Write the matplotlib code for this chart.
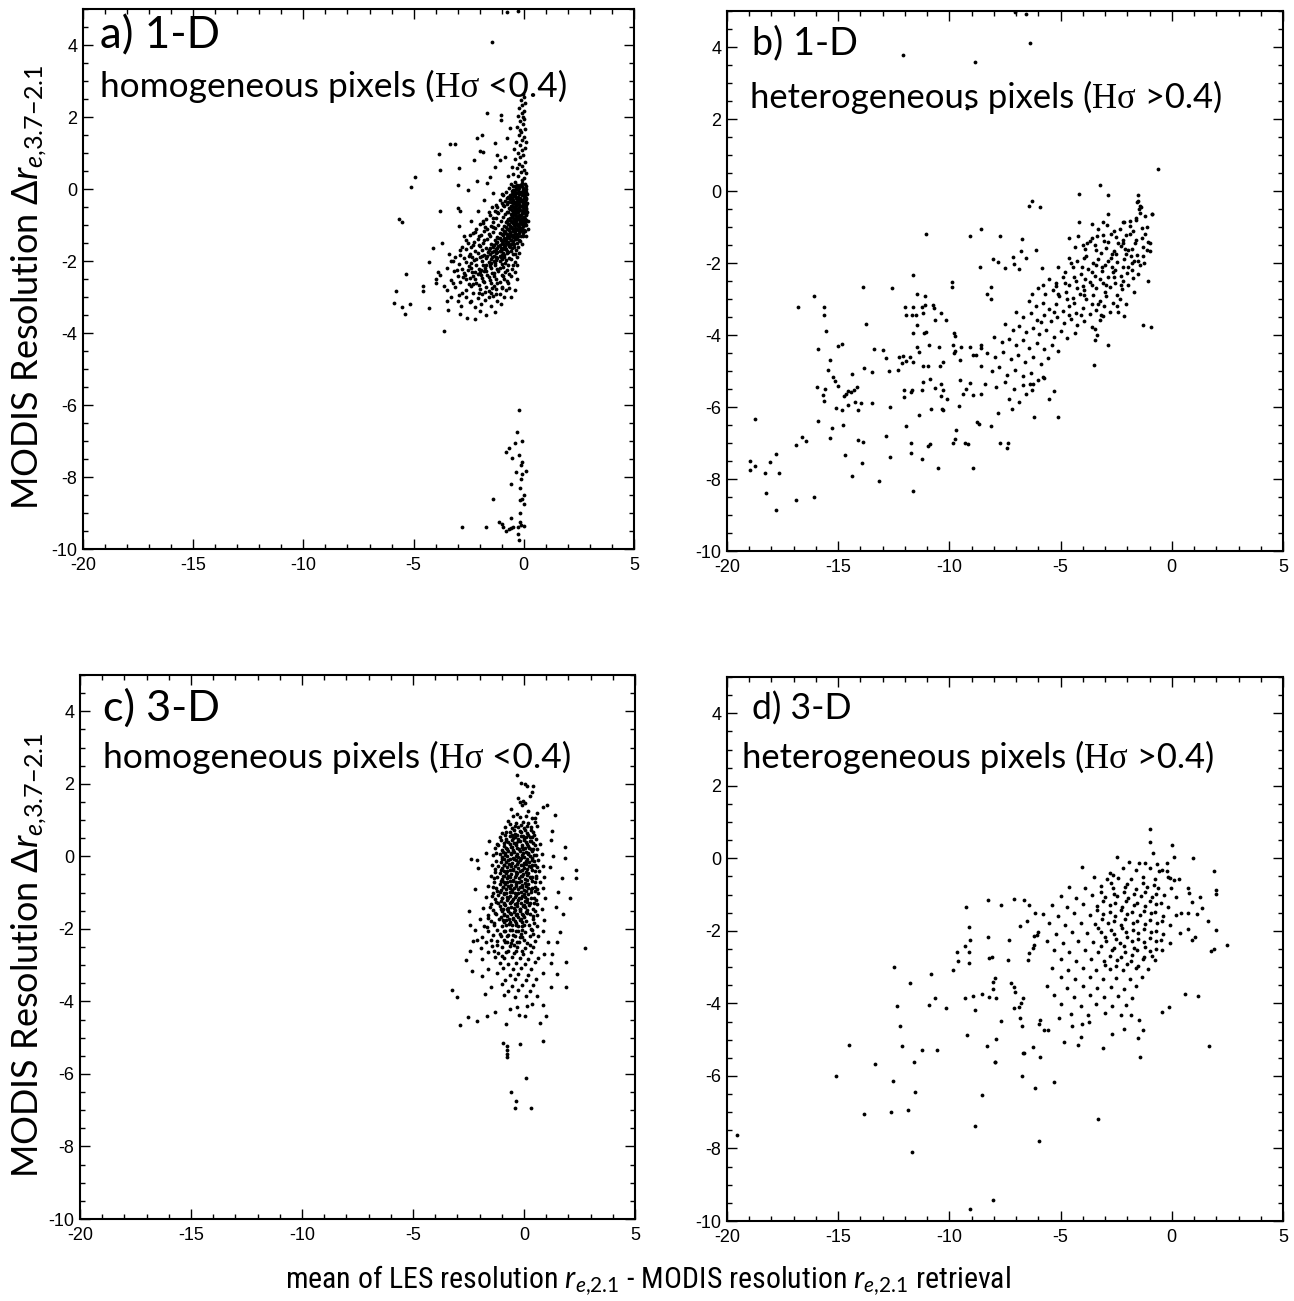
import matplotlib
matplotlib.use("Agg")
import matplotlib.pyplot as plt
from matplotlib import font_manager
from matplotlib.ticker import MultipleLocator

plt.rcParams['font.family'] = ['Lato', 'DejaVu Sans']
plt.rcParams['mathtext.fontset'] = 'custom'
plt.rcParams['mathtext.rm'] = 'Lato'
plt.rcParams['mathtext.it'] = 'Lato:italic'
plt.rcParams['axes.unicode_minus'] = False

# a condensed face for the bottom label, if one is installed
cond_family, cond_stretch = 'Lato', 'normal'
for f in font_manager.fontManager.ttflist:
    if f.stretch in ('condensed', 'semi-condensed') and f.style == 'normal' \
            and f.weight in (400, 'normal', 'regular'):
        cond_family, cond_stretch = f.name, f.stretch
        if f.name in ('Liberation Sans Narrow', 'Roboto Condensed', 'Open Sans Condensed'):
            break

# ---- data (x: mean LES - MODIS r_e2.1, y: MODIS delta r_e) ----
panel_tags = ['a) 1-D', 'b) 1-D', 'c) 3-D', 'd) 3-D']
panel_kinds = ['homogeneous pixels (', 'heterogeneous pixels (',
               'homogeneous pixels (', 'heterogeneous pixels (']
panel_limits = [' <0.4)', ' >0.4)', ' <0.4)', ' >0.4)']

x_major = [-20, -15, -10, -5, 0, 5]
y_major = [-10, -8, -6, -4, -2, 0, 2, 4]

# a) 1-D, homogeneous
pts_a = [
    (-1.45, 4.08), (-0.75, 4.92), (-0.25, 4.95),
    (-0.05, 2.65), (0.02, 2.55), (-0.12, 2.48), (0.05, 2.40), (-0.08, 2.32), (-0.2, 2.25),
    (0.0, 2.18), (-0.1, 2.10), (-0.25, 2.02), (0.03, 1.95), (-0.15, 1.88), (-0.05, 1.80),
    (-0.3, 1.72), (0.06, 1.66), (-0.12, 1.58), (-0.22, 1.50), (0.0, 1.44), (-0.08, 1.36),
    (-0.35, 1.30), (-0.18, 1.22), (0.04, 1.15), (-0.1, 1.08), (-0.28, 1.00), (-0.02, 0.94),
    (-0.15, 0.88), (-0.42, 0.82), (0.05, 0.76), (-0.22, 0.70), (-0.08, 0.64), (-0.32, 0.58),
    (0.0, 0.52), (-0.14, 0.46), (-0.5, 0.42), (-0.25, 0.36), (0.03, 0.30), (-0.1, 0.25),
    (-0.38, 0.20), (-0.6, 0.15), (-0.18, 0.12), (0.08, 0.08), (-0.02, 2.0), (-0.15, 1.65),
    (0.08, 1.3), (-0.45, 1.1), (-0.55, 0.6), (0.1, 0.45), (-0.7, 0.35),
    (-1.66, 2.10), (-1.05, 2.06), (-1.05, 1.92), (-3.35, 1.25), (-3.12, 1.25), (-3.85, 0.97),
    (-3.80, 0.53), (-4.94, 0.34), (-5.12, 0.06), (-2.94, 0.58), (-3.0, 0.10), (-2.14, 1.41),
    (-1.91, 1.50), (-1.99, 1.06), (-1.84, 1.04), (-2.26, 0.81), (-1.31, 0.62), (-1.23, 0.94),
    (-1.31, 1.27), (-1.08, 0.81), (-0.85, 0.90), (-0.78, 1.41), (-0.63, 1.69), (-2.52, -0.03),
    (-2.14, 0.23), (-1.69, 0.16), (-1.53, 0.34),
    (-0.3, 0.12), (-0.1, 0.07), (0.05, 0.13), (-0.5, 0.09),
    (-0.2, 0.02), (-0.05, -0.03), (0.1, 0.01), (-0.4, -0.02), (-0.65, 0.03),
    (-0.15, -0.08), (0.0, -0.12), (-0.35, -0.1), (-0.55, -0.13), (0.12, -0.09), (-0.8, -0.07),
    (-0.25, -0.22), (-0.08, -0.18), (0.05, -0.21), (-0.45, -0.19), (-0.7, -0.23), (-0.95, -0.17),
    (-0.3, -0.28), (-0.12, -0.32), (0.08, -0.29), (-0.5, -0.31), (-0.62, -0.27), (-0.85, -0.33), (-1.1, -0.3),
    (-0.2, -0.41), (-0.02, -0.38), (-0.4, -0.42), (0.12, -0.4), (-0.6, -0.37), (-0.78, -0.43), (-1.0, -0.39),
    (-0.28, -0.52), (-0.1, -0.48), (0.05, -0.51), (-0.48, -0.49), (-0.68, -0.53), (-0.9, -0.47),
    (-1.2, -0.51), (-1.45, -0.49),
    (-0.15, -0.58), (0.0, -0.62), (-0.35, -0.61), (-0.55, -0.57), (0.1, -0.6), (-0.75, -0.63),
    (-1.05, -0.59), (-1.3, -0.62),
    (-0.22, -0.72), (-0.05, -0.68), (-0.42, -0.71), (-0.6, -0.69), (0.08, -0.73), (-0.85, -0.7),
    (-1.15, -0.67), (-1.55, -0.72),
    (-0.3, -0.79), (-0.12, -0.82), (0.02, -0.78), (-0.5, -0.81), (-0.7, -0.83), (-0.95, -0.78),
    (-1.25, -0.8), (-1.7, -0.82),
    (-0.18, -0.91), (-0.02, -0.88), (-0.38, -0.92), (-0.58, -0.89), (0.1, -0.9), (-0.8, -0.93),
    (-1.05, -0.88), (-1.4, -0.91), (-1.85, -0.89),
    (-0.25, -1.02), (-0.08, -0.98), (-0.45, -1.01), (-0.65, -0.97), (-0.88, -1.03), (-1.15, -0.99),
    (-1.5, -1.02), (0.05, -1.0), (-2.0, -0.98),
    (-0.15, -1.09), (-0.35, -1.12), (-0.55, -1.08), (-0.75, -1.11), (0.0, -1.13), (-1.0, -1.1),
    (-1.3, -1.07), (-1.65, -1.12), (-2.15, -1.1),
    (-0.22, -1.21), (-0.42, -1.18), (-0.62, -1.22), (-0.85, -1.19), (-1.1, -1.23), (-1.4, -1.2),
    (-1.8, -1.18), (-0.05, -1.21), (-2.3, -1.22),
    (-0.3, -1.32), (-0.5, -1.28), (-0.7, -1.31), (-0.95, -1.29), (-1.2, -1.33), (-1.55, -1.3),
    (-1.95, -1.27), (-0.12, -1.31), (-2.45, -1.29),
    (-0.2, -1.41), (-0.4, -1.38), (-0.6, -1.42), (-0.82, -1.39), (-1.05, -1.41), (-1.3, -1.43),
    (-1.65, -1.38), (-2.1, -1.4), (-2.6, -1.42),
    (-0.3, -1.49), (-0.52, -1.52), (-0.75, -1.48), (-1.0, -1.51), (-1.25, -1.49), (-1.5, -1.53),
    (-1.85, -1.5), (-2.25, -1.48), (-0.1, -1.52),
    (-0.45, -1.61), (-0.68, -1.58), (-0.9, -1.62), (-1.15, -1.59), (-1.4, -1.61), (-1.7, -1.63),
    (-2.0, -1.58), (-2.4, -1.6), (-2.8, -1.62),
    (-0.35, -1.69), (-0.6, -1.72), (-0.85, -1.68), (-1.1, -1.71), (-1.35, -1.73), (-1.6, -1.69),
    (-1.9, -1.7), (-2.2, -1.72), (-2.6, -1.68),
    (-0.5, -1.81), (-0.78, -1.79), (-1.0, -1.82), (-1.25, -1.78), (-1.55, -1.81), (-1.8, -1.83),
    (-2.1, -1.79), (-2.45, -1.8), (-2.9, -1.82), (-0.2, -1.78),
    (-0.65, -1.91), (-0.9, -1.88), (-1.2, -1.92), (-1.45, -1.89), (-1.7, -1.91), (-2.0, -1.9),
    (-2.35, -1.88), (-2.7, -1.92), (-3.1, -1.9),
    (-0.4, -2.02), (-0.8, -1.98), (-1.1, -2.01), (-1.35, -1.99), (-1.6, -2.03), (-1.9, -2.0),
    (-2.25, -1.97), (-2.6, -2.02), (-3.3, -2.0),
    (-0.7, -2.11), (-1.0, -2.09), (-1.3, -2.12), (-1.55, -2.08), (-1.85, -2.11), (-2.15, -2.1),
    (-2.5, -2.13), (-2.95, -2.09), (-0.3, -2.1),
    (-0.55, -2.21), (-0.95, -2.18), (-1.2, -2.22), (-1.5, -2.19), (-1.75, -2.2), (-2.05, -2.23),
    (-2.4, -2.19), (-2.8, -2.21), (-3.5, -2.2),
    (-0.85, -2.31), (-1.15, -2.29), (-1.45, -2.32), (-1.7, -2.28), (-2.0, -2.31), (-2.35, -2.3),
    (-2.7, -2.32), (-3.15, -2.29), (-0.4, -2.3),
    (-0.6, -2.41), (-1.0, -2.38), (-1.35, -2.42), (-1.65, -2.39), (-1.95, -2.4), (-2.3, -2.43),
    (-2.65, -2.39), (-3.0, -2.41), (-3.8, -2.4),
    (-0.9, -2.51), (-1.25, -2.49), (-1.55, -2.52), (-1.9, -2.48), (-2.2, -2.51), (-2.6, -2.5),
    (-3.3, -2.52), (-0.3, -2.5),
    (-0.7, -2.61), (-1.1, -2.58), (-1.5, -2.62), (-1.8, -2.59), (-2.15, -2.6), (-2.5, -2.63),
    (-2.9, -2.59), (-4.0, -2.6),
    (-1.0, -2.71), (-1.35, -2.69), (-1.7, -2.72), (-2.05, -2.68), (-2.4, -2.7), (-3.1, -2.72),
    (-0.8, -2.81), (-1.25, -2.79), (-1.6, -2.82), (-2.0, -2.78), (-2.6, -2.8), (-3.5, -2.81),
    (-1.1, -2.91), (-1.5, -2.88), (-1.9, -2.92), (-2.3, -2.9), (-2.8, -2.89),
    (-0.9, -3.01), (-1.4, -2.98), (-2.1, -3.02), (-2.6, -3.0), (-3.3, -2.99),
    (-1.2, -3.11), (-1.75, -3.09), (-2.4, -3.12), (-3.0, -3.1),
    (-1.5, -3.24), (-2.2, -3.27), (-2.85, -3.25), (-1.3, -3.41), (-2.0, -3.38),
    (-0.22, 0.06), (-0.02, 0.03), (-0.4, 0.07),
    (-0.28, -0.04), (-0.1, -0.07), (0.06, -0.05), (-0.5, -0.03),
    (-0.2, -0.14), (-0.05, -0.17), (0.1, -0.15), (-0.4, -0.13), (-0.62, -0.16),
    (-0.35, -0.24), (-0.15, -0.27), (0.0, -0.25), (-0.55, -0.26),
    (-0.22, -0.34), (-0.05, -0.37), (-0.42, -0.35), (0.05, -0.33), (-0.7, -0.36),
    (-0.3, -0.44), (-0.12, -0.47), (0.08, -0.45), (-0.52, -0.46),
    (-0.2, -0.54), (-0.05, -0.57), (-0.4, -0.55), (-0.62, -0.56), (0.12, -0.53),
    (-0.28, -0.64), (-0.1, -0.67), (0.05, -0.65), (-0.5, -0.66), (-0.7, -0.64),
    (-0.15, -0.74), (0.0, -0.77), (-0.35, -0.75), (-0.55, -0.76),
    (-0.25, -0.84), (-0.08, -0.87), (-0.45, -0.85), (-0.65, -0.86), (0.06, -0.83),
    (-0.12, -0.94), (-0.3, -0.97), (-0.5, -0.95), (-0.72, -0.96), (0.02, -0.93),
    (-0.2, -1.04), (-0.38, -1.07), (-0.6, -1.05), (-0.8, -1.06), (-0.05, -1.03),
    (-0.28, -1.14), (-0.48, -1.17), (-0.68, -1.15), (-0.9, -1.16), (-0.1, -1.13),
    (-0.35, -1.24), (-0.55, -1.27), (-0.78, -1.25), (-1.0, -1.26),
    (-0.42, -1.34), (-0.65, -1.37), (-0.88, -1.35), (-1.1, -1.36),
    (-0.5, -1.44), (-0.72, -1.47), (-0.95, -1.45), (-1.2, -1.46),
    (-0.6, -1.54), (-0.85, -1.57), (-1.1, -1.55), (-1.35, -1.56),
    (-0.55, -1.64), (-0.8, -1.67), (-1.05, -1.65), (-1.28, -1.66), (-1.55, -1.64),
    (-0.7, -1.74), (-0.95, -1.77), (-1.2, -1.75), (-1.45, -1.76),
    (-0.9, -1.84), (-1.1, -1.87), (-1.35, -1.85), (-1.65, -1.86),
    (-1.0, -1.94), (-1.25, -1.97), (-1.5, -1.95),
    (-0.08, 0.16), (-0.34, 0.04), (0.0, -0.02), (-0.26, -0.12), (-0.46, -0.08), (0.03, -0.14),
    (-0.18, -0.25), (-0.38, -0.2), (-0.6, -0.21), (0.1, -0.24), (-0.08, -0.3), (-0.3, -0.36),
    (-0.5, -0.4), (0.0, -0.43), (-0.17, -0.46), (-0.4, -0.5), (-0.6, -0.47), (0.08, -0.56),
    (-0.25, -0.58), (-0.47, -0.62), (-0.03, -0.6), (-0.35, -0.68), (-0.12, -0.72), (0.1, -0.7),
    (-0.55, -0.72), (-0.25, -0.78), (-0.42, -0.82), (-0.04, -0.8), (-0.62, -0.8), (-0.17, -0.9),
    (-0.35, -0.88), (0.05, -0.95), (-0.55, -0.93), (-0.75, -0.9), (-0.25, -0.97), (-0.42, -1.0),
    (-0.1, -1.08), (-0.62, -1.02), (-0.3, -1.1), (-0.5, -1.13), (-0.72, -1.1), (-0.18, -1.18),
    (-0.4, -1.23), (-0.62, -1.2), (-0.85, -1.22), (-0.25, -1.3), (-0.48, -1.32), (-0.75, -1.33),
    (-0.35, -1.4), (-0.58, -1.42), (-0.85, -1.43), (-0.45, -1.52), (-0.7, -1.52), (-0.95, -1.53),
    (-0.62, -1.62), (-0.9, -1.64), (-1.2, -1.63), (-0.78, -1.72), (-1.05, -1.73), (-0.05, -0.5),
    (0.12, -0.85), (0.1, -1.0), (0.15, -0.15), (0.14, -0.65),
    (-1.38, -1.05), (-1.6, -1.25), (-1.82, -1.43), (-2.05, -1.55), (-1.15, -1.35), (-1.42, -1.55),
    (-1.62, -1.74), (-1.9, -1.86), (-2.15, -1.95), (-2.4, -2.05), (-1.05, -1.88), (-1.3, -2.05),
    (-1.55, -2.15), (-1.8, -2.27), (-2.1, -2.37), (-2.45, -2.48), (-0.85, -2.05), (-1.1, -2.2),
    (-1.35, -2.33), (-1.6, -2.45), (-1.85, -2.55), (-2.3, -2.65), (-0.95, -2.42), (-1.2, -2.6),
    (-1.45, -2.75), (-1.75, -2.85), (-2.05, -2.9), (-0.75, -2.25), (-0.6, -1.95), (-0.4, -1.8),
    (-0.25, -1.6), (-0.15, -1.45), (-0.05, -1.3), (0.05, -1.18), (-0.3, -1.9), (-0.5, -2.12),
    (-0.65, -2.35), (-0.75, -2.55), (-1.0, -2.75), (-1.28, -2.92), (-0.62, -1.3), (-0.8, -1.5),
    (-1.0, -1.68), (-1.25, -1.88), (-1.48, -2.05), (-1.72, -2.12), (-1.95, -2.25), (-2.2, -2.3),
    (-2.55, -2.25), (-2.75, -2.45), (-2.5, -1.85), (-2.3, -1.55), (-2.05, -1.3), (-1.75, -1.05),
    (-1.4, -0.8), (-1.2, -0.65), (-0.95, -0.45), (-0.75, -0.25), (-0.55, -0.05), (-1.0, -0.15),
    (-1.25, -0.45), (-1.6, -0.65), (-1.85, -0.95), (-2.2, -1.2), (-2.55, -1.5), (-2.9, -1.7),
    (-3.05, -2.25), (-3.2, -2.6), (-2.95, -2.95), (-2.45, -3.15), (-1.95, -3.2), (-1.6, -3.0),
    (-1.05, -3.2), (-0.65, -2.75),
    (-5.68, -0.83), (-5.53, -0.92), (-4.1, -1.64), (-4.3, -2.03), (-5.35, -2.36), (-5.8, -2.83),
    (-5.89, -3.17), (-5.53, -3.28), (-5.39, -3.47), (-5.16, -3.19), (-4.57, -2.69), (-4.57, -2.83),
    (-3.62, -3.94), (-2.58, -3.58), (-3.44, -3.36), (-2.89, -3.47), (-3.8, -0.61), (-3.0, -0.53),
    (-2.9, -0.61), (-2.95, -1.03), (-3.9, -2.3), (-3.6, -2.7), (-4.0, -2.5), (-3.4, -1.8),
    (-3.7, -1.5), (-2.7, -1.3), (-2.4, -0.9), (-2.1, -0.6), (-1.8, -0.3), (-1.4, -0.1),
    (-3.2, -2.0), (-3.5, -3.1), (-4.3, -3.3), (-2.2, -3.6), (-1.7, -3.5), (-0.6, -3.0),
    (-0.4, -2.8), (0.1, -1.3), (0.2, -0.9), (0.15, -0.4), (0.2, -1.1),
    (-0.2, -6.15), (-0.3, -6.75), (-0.1, -7.0), (-0.65, -7.2), (-0.4, -7.05),
    (-0.79, -7.31), (-0.22, -7.40), (-0.53, -7.46), (-0.08, -7.58), (-0.12, -7.66), (-0.36, -7.86),
    (0.08, -7.82), (-0.06, -7.91), (-0.12, -8.06), (-0.59, -8.19), (-0.18, -8.31), (0.02, -8.51),
    (-0.08, -8.60), (-0.16, -8.63), (0.0, -8.75), (-1.38, -8.60), (-0.18, -8.99), (-0.59, -9.13),
    (-1.14, -9.26), (-0.97, -9.30), (-0.16, -9.24), (-0.12, -9.33), (0.02, -9.35), (-2.8, -9.39),
    (-1.70, -9.39), (-0.93, -9.40), (-0.79, -9.50), (-0.67, -9.45), (-0.57, -9.42), (-0.47, -9.40),
    (-0.28, -9.40), (-0.26, -9.58), (-0.22, -9.75),
]

# b) 1-D, heterogeneous
pts_b = [
    (-12.09, 3.78), (-8.85, 3.58), (-6.38, 4.11), (-7.05, 4.97), (-6.56, 4.92), (-9.21, 2.31),
    (-0.63, 0.60), (-3.25, 0.16), (-4.19, -0.07), (-2.89, -0.12), (-1.54, -0.12), (-1.51, -0.28),
    (-0.87, -0.65), (-6.30, -0.29), (-6.43, -0.41), (-5.93, -0.44), (-2.89, -0.64), (-4.19, -0.87),
    (-3.60, -0.91), (-3.08, -0.87), (-1.41, -0.43), (-1.46, -0.51), (-2.17, -0.87), (-1.89, -0.83),
    (-1.62, -0.74), (-1.33, -1.04), (-1.09, -2.51), (-1.30, -3.72), (-0.93, -3.77), (-2.89, -4.28),
    (-3.52, -4.83), (-1.06, -1.43), (-0.98, -1.66),
    (-9.08, -1.24), (-8.6, -1.06), (-7.73, -1.26), (-6.73, -1.33), (-6.12, -1.63), (-6.76, -1.66),
    (-4.63, -1.31), (-11.03, -1.20), (-8.04, -1.90), (-7.81, -1.98), (-7.49, -2.14), (-7.12, -1.82),
    (-7.09, -2.02), (-6.57, -1.87), (-6.89, -2.18), (-5.82, -2.14), (-8.63, -2.12), (-8.12, -2.67),
    (-8.31, -2.85), (-8.12, -2.99), (-9.87, -2.53), (-9.90, -2.67),
    (-4.2, -1.25), (-3.6, -1.3), (-3.1, -1.22), (-2.85, -1.42), (-2.5, -1.28), (-2.2, -1.36),
    (-1.9, -1.2), (-1.65, -1.45), (-1.35, -1.3),
    (-4.35, -1.55), (-3.9, -1.62), (-3.45, -1.5), (-3.2, -1.72), (-2.95, -1.58), (-2.6, -1.66),
    (-2.3, -1.52), (-2.05, -1.75), (-1.8, -1.6), (-1.55, -1.78), (-1.3, -1.55),
    (-4.6, -1.85), (-4.25, -1.95), (-3.85, -1.8), (-3.55, -2.0), (-3.3, -1.9), (-3.0, -2.05),
    (-2.75, -1.85), (-2.45, -1.98), (-2.15, -1.88), (-1.95, -2.1), (-1.7, -1.95), (-1.45, -2.05),
    (-5.1, -2.12), (-4.8, -2.25), (-4.45, -2.1), (-4.1, -2.3), (-3.75, -2.18), (-3.45, -2.35),
    (-3.15, -2.22), (-2.85, -2.4), (-2.55, -2.2), (-2.3, -2.35), (-2.0, -2.28), (-1.75, -2.42),
    (-1.5, -2.3),
    (-5.5, -2.45), (-5.2, -2.55), (-4.9, -2.4), (-4.6, -2.6), (-4.3, -2.5), (-4.0, -2.65),
    (-3.7, -2.52), (-3.4, -2.7), (-3.1, -2.55), (-2.8, -2.68), (-2.55, -2.55), (-2.25, -2.72),
    (-1.95, -2.6), (-1.7, -2.8),
    (-6.0, -2.7), (-5.7, -2.85), (-5.35, -2.75), (-5.05, -2.92), (-4.75, -2.8), (-4.45, -2.98),
    (-4.15, -2.85), (-3.85, -3.0), (-3.55, -2.9), (-3.25, -3.05), (-2.95, -2.92), (-2.65, -3.1),
    (-2.35, -3.0), (-2.05, -3.15),
    (-6.4, -3.05), (-6.1, -3.2), (-5.8, -3.1), (-5.5, -3.28), (-5.2, -3.15), (-4.9, -3.32),
    (-4.6, -3.2), (-4.3, -3.38), (-4.0, -3.25), (-3.7, -3.42), (-3.4, -3.3), (-3.1, -3.48),
    (-2.8, -3.35),
    (-7.0, -3.35), (-6.7, -3.5), (-6.35, -3.4), (-6.05, -3.58), (-5.75, -3.45), (-5.45, -3.62),
    (-5.15, -3.5), (-4.85, -3.68), (-4.55, -3.55), (-4.25, -3.72), (-3.95, -3.6), (-3.6, -3.78),
    (-7.5, -3.7), (-7.15, -3.85), (-6.85, -3.75), (-6.55, -3.92), (-6.25, -3.8), (-5.95, -3.98),
    (-5.65, -3.85), (-5.3, -4.05), (-5.0, -3.9), (-4.7, -4.08), (-4.35, -3.95),
    (-8.0, -4.05), (-7.65, -4.2), (-7.3, -4.1), (-7.0, -4.28), (-6.7, -4.15), (-6.4, -4.35),
    (-6.05, -4.22), (-5.75, -4.4), (-5.4, -4.28), (-5.1, -4.45),
    (-8.3, -4.5), (-7.95, -4.6), (-7.6, -4.48), (-7.25, -4.68), (-6.9, -4.55), (-6.6, -4.75),
    (-6.25, -4.62), (-5.9, -4.8), (-5.55, -4.65),
    (-8.6, -4.85), (-8.1, -5.0), (-7.75, -4.9), (-7.4, -5.1), (-7.05, -4.98), (-6.7, -5.15),
    (-6.35, -5.05), (-6.0, -5.25),
    (-8.4, -5.35), (-7.9, -5.45), (-7.5, -5.3), (-7.1, -5.5), (-6.7, -5.4),
    (-3.3, -1.05), (-2.9, -0.95), (-2.6, -1.1), (-2.2, -0.85), (-1.9, -0.98), (-1.6, -0.8),
    (-1.45, -0.6), (-1.4, -0.45), (-1.55, -0.3), (-1.2, -0.7), (-1.1, -1.0), (-0.9, -0.65),
    (-1.0, -1.45), (-1.1, -1.65), (-1.25, -2.0), (-1.8, -2.2), (-2.1, -1.6), (-2.7, -2.1),
    (-3.4, -2.05), (-3.9, -2.45), (-3.0, -2.8), (-2.45, -2.9), (-2.2, -2.5), (-2.7, -1.75),
    (-3.7, -1.4), (-4.0, -1.5), (-4.55, -2.0), (-3.95, -2.75), (-3.3, -3.15), (-4.4, -3.1),
    (-5.2, -2.65), (-5.8, -2.6), (-6.3, -2.85), (-1.8, -2.0), (-2.4, -1.45),
    (-1.75, -1.12), (-2.05, -1.22), (-2.35, -1.05), (-2.75, -1.2), (-3.05, -1.4), (-3.35, -1.25),
    (-3.8, -1.45), (-1.5, -1.95), (-1.85, -1.8), (-2.2, -2.1), (-2.5, -1.75), (-2.85, -1.95),
    (-3.15, -2.1), (-3.6, -2.25), (-4.05, -2.1), (-4.4, -2.4), (-4.8, -2.55), (-2.3, -2.6),
    (-2.6, -2.4), (-2.95, -2.6), (-3.25, -2.45), (-3.6, -2.6), (-3.95, -2.9), (-4.25, -2.7),
    (-4.7, -3.0), (-5.1, -2.85), (-2.2, -1.45), (-1.95, -1.65), (-1.6, -1.35), (-1.3, -1.8),
    (-1.2, -1.2), (-2.45, -3.2), (-3.05, -3.2), (-3.6, -3.15), (-4.1, -3.45), (-4.6, -3.45),
    (-5.3, -3.35), (-5.9, -3.65), (-2.65, -2.25), (-3.4, -1.65), (-3.95, -1.85),
    (-3.44, -3.82), (-3.36, -4.0), (-3.44, -4.14), (-2.41, -3.36), (-2.17, -3.47), (-3.25, -3.59),
    (-3.2, -3.45), (-6.19, -6.28), (-5.11, -6.28), (-5.54, -5.79), (-6.89, -5.86), (-7.41, -7.15),
    (-7.36, -6.99), (-7.73, -6.99), (-6.54, -5.64), (-6.3, -5.52), (-6.22, -5.35), (-6.38, -5.35),
    (-5.74, -5.20), (-5.81, -5.16), (-5.3, -5.56), (-7.81, -6.16), (-7.33, -5.79), (-7.17, -6.05),
    (-8.76, -6.41), (-8.68, -6.48), (-8.12, -6.53),
    (-18.97, -7.49), (-18.76, -7.65), (-18.97, -7.74), (-18.76, -6.34), (-18.28, -7.82),
    (-17.65, -7.83), (-18.08, -7.54), (-17.81, -7.31), (-18.24, -8.39), (-17.81, -8.85),
    (-16.9, -7.05), (-16.62, -6.84), (-16.43, -6.94), (-16.9, -8.59), (-16.09, -8.50),
    (-15.9, -6.39), (-15.27, -6.57), (-15.38, -6.87), (-14.79, -6.5), (-15.9, -4.40),
    (-15.95, -5.44), (-15.58, -5.50), (-15.7, -5.66), (-15.66, -5.84), (-15.46, -4.98),
    (-15.35, -4.69), (-15.22, -5.18), (-15.14, -5.29), (-15.0, -5.43), (-15.03, -4.30),
    (-14.85, -4.26), (-15.11, -6.04), (-14.85, -6.08), (-14.7, -7.33), (-14.36, -7.91),
    (-14.12, -6.92), (-13.87, -6.98), (-13.92, -7.56), (-14.74, -5.70), (-14.58, -5.56),
    (-14.43, -5.58), (-14.28, -5.54), (-14.16, -5.44), (-14.63, -5.63), (-14.36, -5.08),
    (-14.55, -5.95), (-14.24, -5.86), (-14.12, -6.09), (-13.97, -5.89), (-13.47, -5.89),
    (-13.84, -4.92), (-13.46, -5.04), (-13.41, -4.40), (-12.97, -4.43), (-12.84, -4.64),
    (-12.73, -5.01), (-12.33, -4.98), (-12.28, -4.60), (-12.09, -4.57), (-12.12, -4.78),
    (-11.93, -4.72), (-11.78, -4.60), (-11.62, -4.75), (-12.65, -6.0), (-12.87, -6.80),
    (-12.65, -7.38), (-13.16, -8.06), (-11.62, -8.32), (-11.93, -6.53), (-11.74, -6.99),
    (-11.74, -7.29), (-11.22, -7.45), (-10.5, -7.70), (-10.98, -7.08), (-10.85, -7.04),
    (-11.38, -6.23), (-12.06, -5.52), (-12.06, -5.72), (-11.74, -5.58), (-11.68, -5.54),
    (-11.17, -5.31), (-11.22, -5.54), (-10.85, -5.22), (-10.66, -5.47), (-11.46, -4.32),
    (-11.38, -4.46), (-11.17, -4.87), (-10.98, -4.87), (-10.9, -4.29), (-10.46, -4.32),
    (-10.43, -4.87), (-10.27, -4.74), (-10.4, -5.36), (-10.3, -5.52), (-10.38, -5.70),
    (-10.12, -5.77), (-10.82, -6.05), (-10.35, -6.05), (-10.31, -6.09), (-9.82, -4.28),
    (-9.77, -4.44), (-9.81, -4.51), (-9.81, -3.95), (-9.76, -4.02), (-9.58, -5.98),
    (-9.71, -6.65), (-9.77, -6.90), (-9.84, -6.99), (-9.31, -6.99), (-9.16, -7.04),
    (-8.92, -7.70), (-9.49, -4.32), (-9.08, -4.32), (-8.92, -4.55), (-8.81, -4.55),
    (-8.6, -4.28), (-8.57, -4.35), (-9.52, -4.70), (-9.52, -5.24), (-9.39, -5.64),
    (-9.24, -5.49), (-9.08, -5.33), (-8.92, -5.66), (-8.6, -5.64),
    (-16.82, -3.23), (-16.11, -2.92), (-15.62, -3.22), (-15.66, -3.45), (-15.54, -3.89),
    (-13.87, -2.68), (-12.57, -2.69), (-11.62, -2.32), (-13.73, -3.69),
    (-11.46, -2.85), (-11.09, -2.91), (-11.98, -3.23), (-11.62, -3.21), (-11.22, -3.23),
    (-10.74, -3.17), (-11.93, -3.45), (-11.7, -3.45), (-11.49, -3.45), (-11.17, -3.40),
    (-11.11, -3.18), (-10.71, -3.25), (-10.38, -3.38), (-10.16, -3.59), (-10.66, -3.59),
    (-11.46, -3.72), (-11.62, -3.95), (-11.14, -3.95), (-11.03, -3.91),
]

# c) 3-D, homogeneous
pts_c = [
    (-0.33, 2.24), (-0.15, 2.03), (0.04, 1.99), (0.15, 1.94), (0.39, 1.94), (0.35, 1.78),
    (0.27, 1.66), (-0.26, 1.6), (-0.18, 1.5), (-0.1, 1.41), (0.04, 1.46), (-0.03, 1.53),
    (0.87, 1.37), (1.02, 1.41), (1.40, 1.14), (-0.3, 1.18), (0.2, 1.25), (0.5, 1.05), (0.6, 1.2),
    (-0.6, 1.3), (-0.81, 0.68),
    (-1.56, 0.43), (-1.73, 0.08), (-2.4, -0.06), (-2.06, -0.33), (-2.13, -0.1), (-2.2, -0.9),
    (-2.5, -1.5), (-2.45, -1.9), (-2.1, -2.3), (-2.45, -2.6), (-2.6, -2.85), (-2.35, -3.15),
    (-1.9, -3.3), (-1.5, -3.6), (-1.75, -3.8),
    (1.25, 0.7), (1.2, 0.45), (1.85, 0.25), (1.85, -0.05), (1.3, 0.0), (2.34, -0.38), (2.33, -0.6),
    (1.55, -0.97), (2.07, -1.15), (1.44, -1.4), (1.74, -1.6), (1.7, -0.6), (1.15, -0.3),
    (1.6, -2.1), (1.5, -2.35), (1.25, -2.7), (1.9, -2.9), (1.5, -3.25), (2.75, -2.54), (1.9, -3.6),
    (1.2, -3.6),
    (-3.26, -3.69), (-3.0, -3.87), (-2.88, -4.64), (-2.54, -4.44), (-2.13, -4.54), (-1.65, -4.41),
    (-1.31, -4.29), (-0.81, -4.61), (-0.93, -5.16), (-0.75, -5.23), (-0.78, -5.34), (-0.78, -5.44),
    (-0.78, -5.53), (-0.18, -5.18), (0.85, -5.1), (-0.63, -4.2), (-0.33, -4.15), (-0.21, -4.38),
    (0.04, -4.41), (0.12, -4.13), (0.35, -4.06), (0.87, -4.1), (0.6, -3.85), (1.0, -4.4),
    (0.7, -4.6), (-0.6, -6.5), (-0.35, -6.75), (-0.4, -6.95), (0.3, -6.95), (0.1, -6.1),
    (-0.5, 1.12), (-0.2, 1.08), (0.1, 1.11), (0.35, 1.07),
    (-0.7, 0.97), (-0.35, 0.93), (-0.05, 0.96), (0.2, 0.92), (0.5, 0.95),
    (-0.85, 0.82), (-0.55, 0.78), (-0.25, 0.81), (0.0, 0.77), (0.3, 0.8), (0.6, 0.83),
    (-1.0, 0.63), (-0.65, 0.67), (-0.4, 0.62), (-0.12, 0.66), (0.15, 0.64), (0.42, 0.68),
    (-1.1, 0.52), (-0.8, 0.48), (-0.5, 0.51), (-0.25, 0.47), (0.02, 0.5), (0.28, 0.53), (0.55, 0.49),
    (-1.2, 0.33), (-0.92, 0.37), (-0.65, 0.34), (-0.38, 0.36), (-0.1, 0.32), (0.15, 0.35),
    (0.4, 0.38), (0.7, 0.34),
    (-1.3, 0.22), (-1.0, 0.18), (-0.75, 0.21), (-0.5, 0.17), (-0.22, 0.2), (0.05, 0.23),
    (0.3, 0.19), (0.58, 0.21),
    (-1.4, 0.03), (-1.1, 0.07), (-0.85, 0.04), (-0.6, 0.06), (-0.35, 0.02), (-0.08, 0.05),
    (0.2, 0.08), (0.45, 0.04), (0.8, 0.06),
    (-1.25, -0.12), (-0.98, -0.08), (-0.72, -0.11), (-0.45, -0.07), (-0.2, -0.1), (0.08, -0.13),
    (0.35, -0.09), (0.62, -0.11),
    (-1.45, -0.23), (-1.15, -0.27), (-0.88, -0.24), (-0.6, -0.26), (-0.32, -0.22), (-0.05, -0.25),
    (0.22, -0.28), (0.5, -0.24), (0.85, -0.26),
    (-1.3, -0.42), (-1.02, -0.38), (-0.75, -0.41), (-0.48, -0.37), (-0.2, -0.4), (0.1, -0.43),
    (0.38, -0.39), (0.68, -0.41),
    (-1.5, -0.53), (-1.2, -0.57), (-0.92, -0.54), (-0.62, -0.56), (-0.35, -0.52), (-0.08, -0.55),
    (0.25, -0.58), (0.52, -0.54), (0.9, -0.56),
    (-1.35, -0.72), (-1.05, -0.68), (-0.78, -0.71), (-0.5, -0.67), (-0.22, -0.7), (0.05, -0.73),
    (0.35, -0.69), (0.7, -0.71),
    (-1.6, -0.83), (-1.25, -0.87), (-0.95, -0.84), (-0.65, -0.86), (-0.38, -0.82), (-0.1, -0.85),
    (0.18, -0.88), (0.48, -0.84), (0.85, -0.86),
    (-1.4, -1.02), (-1.1, -0.98), (-0.82, -1.01), (-0.55, -0.97), (-0.28, -1.0), (0.0, -1.03),
    (0.3, -0.99), (0.62, -1.01),
    (-1.7, -1.13), (-1.3, -1.17), (-1.0, -1.14), (-0.7, -1.16), (-0.42, -1.12), (-0.15, -1.15),
    (0.15, -1.18), (0.45, -1.14), (0.95, -1.16),
    (-1.5, -1.32), (-1.18, -1.28), (-0.88, -1.31), (-0.6, -1.27), (-0.3, -1.3), (-0.02, -1.33),
    (0.28, -1.29), (0.6, -1.31),
    (-1.85, -1.43), (-1.4, -1.47), (-1.05, -1.44), (-0.75, -1.46), (-0.45, -1.42), (-0.18, -1.45),
    (0.12, -1.48), (0.42, -1.44), (0.8, -1.46),
    (-1.6, -1.62), (-1.25, -1.58), (-0.92, -1.61), (-0.62, -1.57), (-0.32, -1.6), (-0.05, -1.63),
    (0.25, -1.59), (0.58, -1.61),
    (-2.0, -1.73), (-1.5, -1.77), (-1.12, -1.74), (-0.8, -1.76), (-0.5, -1.72), (-0.2, -1.75),
    (0.1, -1.78), (0.4, -1.74), (0.9, -1.76),
    (-1.8, -1.92), (-1.35, -1.88), (-1.0, -1.91), (-0.68, -1.87), (-0.38, -1.9), (-0.08, -1.93),
    (0.22, -1.89), (0.6, -1.91),
    (-2.2, -2.03), (-1.6, -2.07), (-1.2, -2.04), (-0.85, -2.06), (-0.55, -2.02), (-0.25, -2.05),
    (0.05, -2.08), (0.38, -2.04), (0.85, -2.06),
    (-1.9, -2.22), (-1.4, -2.18), (-1.02, -2.21), (-0.7, -2.17), (-0.4, -2.2), (-0.1, -2.23),
    (0.25, -2.19), (0.65, -2.21),
    (-2.3, -2.33), (-1.7, -2.37), (-1.2, -2.34), (-0.85, -2.36), (-0.55, -2.32), (-0.22, -2.35),
    (0.12, -2.38), (0.5, -2.34), (1.1, -2.36),
    (-1.95, -2.52), (-1.45, -2.48), (-1.0, -2.51), (-0.65, -2.47), (-0.3, -2.5), (0.05, -2.53),
    (0.42, -2.49),
    (-1.6, -2.63), (-1.15, -2.67), (-0.8, -2.64), (-0.45, -2.66), (-0.1, -2.62), (0.3, -2.65),
    (0.9, -2.68),
    (-1.9, -2.82), (-1.3, -2.78), (-0.9, -2.81), (-0.55, -2.77), (-0.2, -2.8), (0.2, -2.83),
    (0.65, -2.79),
    (-1.1, -2.93), (-0.7, -2.97), (-0.35, -2.94), (0.05, -2.96), (0.5, -2.92), (1.2, -2.95),
    (-1.6, -3.12), (-0.95, -3.08), (-0.5, -3.11), (-0.12, -3.07), (0.3, -3.1),
    (-1.2, -3.23), (-0.65, -3.27), (-0.25, -3.24), (0.2, -3.26), (0.85, -3.22),
    (-0.85, -3.42), (-0.4, -3.38), (0.08, -3.41), (0.55, -3.37),
    (-1.0, -3.53), (-0.55, -3.57), (-0.1, -3.54), (0.4, -3.56),
    (-0.7, -3.72), (-0.25, -3.68), (0.25, -3.71), (-0.9, -3.83), (-0.4, -3.87), (0.1, -3.84),
    (-0.55, 0.58), (-0.3, 0.6), (-0.05, 0.56), (0.18, 0.59),
    (-0.8, 0.43), (-0.52, 0.45), (-0.28, 0.41), (0.0, 0.44), (0.25, 0.42),
    (-0.88, 0.28), (-0.6, 0.26), (-0.35, 0.3), (-0.08, 0.27), (0.2, 0.29),
    (-0.95, 0.13), (-0.7, 0.15), (-0.45, 0.11), (-0.18, 0.14), (0.1, 0.12), (0.35, 0.15),
    (-1.0, -0.02), (-0.75, 0.0), (-0.5, -0.04), (-0.25, -0.01), (0.0, -0.03), (0.25, 0.0),
    (-1.05, -0.17), (-0.8, -0.15), (-0.55, -0.19), (-0.28, -0.16), (-0.02, -0.18), (0.22, -0.15),
    (-1.0, -0.32), (-0.75, -0.3), (-0.5, -0.34), (-0.25, -0.31), (0.02, -0.33), (0.3, -0.3),
    (-1.08, -0.47), (-0.82, -0.45), (-0.58, -0.49), (-0.3, -0.46), (-0.05, -0.48), (0.2, -0.45),
    (-1.0, -0.62), (-0.75, -0.6), (-0.48, -0.64), (-0.22, -0.61), (0.05, -0.63), (0.32, -0.6),
    (-1.1, -0.77), (-0.85, -0.75), (-0.6, -0.79), (-0.35, -0.76), (-0.08, -0.78), (0.2, -0.75),
    (-1.05, -0.92), (-0.8, -0.9), (-0.52, -0.94), (-0.25, -0.91), (0.02, -0.93), (0.3, -0.9),
    (-1.15, -1.07), (-0.9, -1.05), (-0.62, -1.09), (-0.38, -1.06), (-0.1, -1.08), (0.18, -1.05),
    (-1.05, -1.22), (-0.78, -1.2), (-0.52, -1.24), (-0.25, -1.21), (0.05, -1.23),
    (-1.1, -1.37), (-0.85, -1.35), (-0.58, -1.39), (-0.32, -1.36), (-0.05, -1.38), (0.22, -1.35),
    (-1.0, -1.52), (-0.72, -1.5), (-0.45, -1.54), (-0.18, -1.51), (0.1, -1.53),
    (-1.05, -1.67), (-0.78, -1.65), (-0.5, -1.69), (-0.25, -1.66), (0.02, -1.68),
    (-0.9, -1.82), (-0.62, -1.8), (-0.35, -1.84), (-0.08, -1.81),
    (-0.45, 0.72), (-0.2, 0.7), (0.05, 0.73), (-0.62, 0.55), (-0.4, 0.53), (-0.15, 0.56),
    (0.1, 0.52), (-0.72, 0.4), (-0.45, 0.38), (-0.2, 0.42), (0.08, 0.39), (0.32, 0.43),
    (-0.8, 0.22), (-0.55, 0.25), (-0.3, 0.23), (-0.05, 0.2), (0.22, 0.24), (-0.85, 0.08),
    (-0.6, 0.1), (-0.32, 0.07), (-0.05, 0.1), (0.2, 0.06), (-0.9, -0.08), (-0.62, -0.06),
    (-0.38, -0.09), (-0.12, -0.05), (0.15, -0.08), (0.38, -0.04), (-0.92, -0.24), (-0.68, -0.22),
    (-0.42, -0.26), (-0.15, -0.23), (0.1, -0.21), (0.35, -0.25), (-0.88, -0.4), (-0.62, -0.38),
    (-0.35, -0.42), (-0.1, -0.39), (0.15, -0.36), (-0.95, -0.55), (-0.7, -0.53), (-0.42, -0.57),
    (-0.15, -0.54), (0.12, -0.52), (0.35, -0.56), (-0.9, -0.7), (-0.62, -0.68), (-0.38, -0.72),
    (-0.12, -0.69), (0.15, -0.66), (-0.95, -0.85), (-0.7, -0.83), (-0.45, -0.87), (-0.18, -0.84),
    (0.08, -0.81), (0.35, -0.86), (-0.92, -1.0), (-0.65, -0.98), (-0.4, -1.02), (-0.15, -0.99),
    (0.1, -0.96), (-1.0, -1.15), (-0.75, -1.13), (-0.48, -1.17), (-0.22, -1.14), (0.05, -1.11),
    (0.3, -1.16), (-0.92, -1.3), (-0.65, -1.28), (-0.4, -1.32), (-0.15, -1.29), (0.12, -1.26),
    (-0.95, -1.45), (-0.7, -1.43), (-0.42, -1.47), (-0.18, -1.44), (0.05, -1.41), (-0.88, -1.6),
    (-0.6, -1.58), (-0.35, -1.62), (-0.1, -1.59), (0.15, -1.56), (-0.95, -1.75), (-0.68, -1.73),
    (-0.42, -1.77), (-0.15, -1.74), (-0.8, -1.9), (-0.52, -1.88), (-0.25, -1.92), (0.02, -1.89),
    (-0.9, -2.05), (-0.62, -2.03), (-0.35, -2.07), (-0.08, -2.04), (-0.75, -2.2), (-0.48, -2.18),
    (-0.2, -2.22),
    (-1.15, 0.3), (-1.25, 0.1), (-1.3, -0.35), (-1.35, -0.6), (-1.4, -0.85), (-1.45, -1.1),
    (-1.55, -1.4), (-1.6, -1.7), (-1.65, -1.95), (0.45, 0.6), (0.5, 0.3), (0.55, 0.05),
    (0.6, -0.3), (0.55, -0.6), (0.6, -0.9), (0.55, -1.2), (0.5, -1.5), (0.45, -1.85),
    (0.4, -2.15), (-0.42, 0.85), (-0.12, 0.87), (0.15, 0.85), (-0.3, -2.35), (-0.6, -2.4),
    (-0.9, -2.3), (-1.2, -2.45), (-1.5, -2.3), (0.0, -2.32), (0.25, -2.45), (-0.05, -2.7),
    (-0.35, -2.6), (-0.7, -2.6), (-1.0, -2.75), (-1.35, -2.6), (-0.62, 0.9), (-0.85, 0.6),
    (-1.05, 0.45), (-0.98, -0.68), (-1.2, -0.95), (-1.25, -1.25), (-1.3, -1.55), (-1.35, -1.85),
    (-1.1, -2.15), (-0.78, -2.35), (-0.45, -2.45), (-0.15, -2.15), (0.3, -2.0), (0.42, -1.65),
    (0.45, -1.3), (0.48, -0.95), (0.5, -0.7), (0.48, -0.4), (0.45, -0.12), (0.42, 0.2),
    (0.35, 0.52), (0.3, 0.72),
]

# d) 3-D, heterogeneous
pts_d = [
    (-0.96, 0.80), (-0.96, 0.44), (-0.83, 0.16), (0.03, 0.37), (0.11, 0.05), (0.97, 0.0),
    (-2.47, 0.03), (-1.92, -0.11), (-1.46, -0.13), (-1.19, -0.14), (-0.2, -0.14), (-0.67, -0.17),
    (-4.03, -0.25), (-2.78, -0.41), (-2.63, -0.46), (-0.16, -0.52), (0.11, -0.59), (0.34, -0.57),
    (-0.57, -0.34), (-0.2, -0.34), (1.9, -0.36), (1.98, -0.87), (1.98, -0.98),
    (0.73, -0.81), (0.78, -0.96), (1.25, -1.07), (0.93, -1.21), (1.36, -1.36), (0.73, -1.51),
    (1.12, -1.53), (0.42, -1.51), (1.62, -1.73), (0.73, -1.94), (1.04, -2.17), (0.89, -2.24),
    (1.98, -1.97), (1.9, -2.51), (1.75, -2.56), (2.48, -2.38), (1.67, -5.18), (0.61, -3.75),
    (1.2, -3.79), (-0.13, -4.09), (-0.44, -4.24), (-1.41, -5.48), (-3.3, -7.18), (-5.96, -7.79),
    (-5.28, -6.17), (-6.14, -6.33), (-6.72, -5.99), (-5.91, -5.47), (-6.25, -5.2), (-6.66, -5.37),
    (-7.97, -5.62), (-8.54, -6.52), (-8.83, -7.38), (-8.05, -9.41), (-9.07, -9.66),
    (-11.69, -8.09), (-11.54, -6.44), (-11.88, -6.94), (-12.63, -6.99), (-13.83, -7.06),
    (-12.55, -6.14), (-13.33, -5.67), (-15.1, -6.01), (-14.5, -5.16), (-12.11, -5.18),
    (-11.57, -5.62), (-11.22, -5.29), (-10.57, -5.29), (-12.21, -4.62), (-12.36, -4.07),
    (-12.5, -2.99), (-11.77, -3.45), (-10.83, -3.2), (-10.91, -4.04), (-10.63, -3.86),
    (-10.16, -4.14), (-9.86, -3.08), (-9.61, -2.83), (-9.66, -2.58), (-9.32, -2.41),
    (-9.27, -1.34), (-9.11, -1.89), (-9.07, -2.24), (-9.11, -2.58), (-9.14, -2.88),
    (-9.3, -3.84), (-8.96, -3.80), (-8.83, -4.18), (-9.22, -4.86), (-8.25, -1.14),
    (-8.25, -2.18), (-8.07, -2.73), (-8.22, -2.74), (-8.52, -3.74), (-8.21, -3.83),
    (-7.91, -3.84), (-8.02, -3.60), (-8.02, -3.40), (-7.97, -3.29), (-8.3, -5.18),
    (-7.91, -4.98), (-7.94, -5.62), (-19.55, -7.62),
    (-7.66, -1.3), (-7.66, -4.48), (-7.32, -2.24), (-7.36, -2.79), (-7.24, -3.45), (-7.11, -3.56),
    (-7.07, -3.69), (-7.08, -4.13), (-6.85, -4.09), (-6.77, -3.98), (-6.69, -3.84), (-7.08, -1.12),
    (-6.66, -1.14), (-6.41, -1.3), (-6.82, -1.87), (-6.5, -1.74), (-6.14, -1.51), (-6.41, -2.62),
    (-6.25, -2.46), (-6.19, -2.39), (-6.46, -2.81), (-6.04, -2.12), (-6.19, -2.15),
    (-6.82, -4.41), (-6.72, -4.63), (-6.69, -5.37), (-5.91, -4.45), (-5.75, -4.73), (-5.55, -4.74),
    (-5.99, -4.56), (-5.08, -4.39), (-4.85, -5.06), (-4.5, -4.63), (-4.22, -5.16), (-4.08, -4.93),
    (-4.03, -4.57), (-3.72, -4.52), (-3.1, -5.23), (-2.67, -4.84), (-2.16, -4.7), (-1.85, -4.31),
    (-1.46, -4.47), (-1.3, -4.74), (-1.53, -4.95),
    (-2.2, -0.28), (-1.6, -0.33), (-1.0, -0.27), (-0.45, -0.32),
    (-3.5, -0.52), (-2.9, -0.58), (-2.4, -0.53), (-1.85, -0.57), (-1.3, -0.51), (-0.75, -0.56),
    (-0.1, -0.54),
    (-4.6, -0.78), (-3.9, -0.83), (-3.2, -0.77), (-2.65, -0.82), (-2.1, -0.79), (-1.6, -0.84),
    (-1.1, -0.78), (-0.6, -0.81), (-0.05, -0.83),
    (-5.0, -1.03), (-4.3, -1.08), (-3.6, -1.02), (-3.0, -1.07), (-2.45, -1.04), (-1.95, -1.09),
    (-1.4, -1.03), (-0.9, -1.06), (-0.35, -1.02), (0.2, -1.07),
    (-5.4, -1.28), (-4.7, -1.33), (-4.0, -1.27), (-3.35, -1.32), (-2.8, -1.29), (-2.25, -1.34),
    (-1.7, -1.28), (-1.2, -1.31), (-0.7, -1.27), (-0.15, -1.33),
    (-5.8, -1.53), (-5.1, -1.58), (-4.4, -1.52), (-3.7, -1.57), (-3.1, -1.54), (-2.55, -1.59),
    (-2.0, -1.53), (-1.45, -1.56), (-0.95, -1.52), (-0.4, -1.58), (0.2, -1.55),
    (-5.5, -1.78), (-4.8, -1.83), (-4.1, -1.77), (-3.45, -1.82), (-2.85, -1.79), (-2.3, -1.84),
    (-1.75, -1.78), (-1.2, -1.81), (-0.65, -1.77), (-0.1, -1.83),
    (-6.0, -2.03), (-5.2, -2.08), (-4.5, -2.02), (-3.8, -2.07), (-3.2, -2.04), (-2.6, -2.09),
    (-2.05, -2.03), (-1.5, -2.06), (-0.95, -2.02), (-0.4, -2.08), (0.35, -2.05),
    (-5.6, -2.28), (-4.9, -2.33), (-4.2, -2.27), (-3.55, -2.32), (-2.95, -2.29), (-2.35, -2.34),
    (-1.8, -2.28), (-1.25, -2.31), (-0.7, -2.27), (-0.1, -2.33),
    (-5.3, -2.53), (-4.6, -2.58), (-3.9, -2.52), (-3.3, -2.57), (-2.7, -2.54), (-2.1, -2.59),
    (-1.55, -2.53), (-1.0, -2.56), (-0.45, -2.52),
    (-5.0, -2.78), (-4.3, -2.83), (-3.65, -2.77), (-3.05, -2.82), (-2.45, -2.79), (-1.85, -2.84),
    (-1.3, -2.78), (-0.75, -2.81),
    (-5.4, -3.03), (-4.65, -3.08), (-4.0, -3.02), (-3.4, -3.07), (-2.8, -3.04), (-2.2, -3.09),
    (-1.6, -3.03), (-1.05, -3.06),
    (-5.0, -3.28), (-4.35, -3.33), (-3.7, -3.27), (-3.1, -3.32), (-2.5, -3.29), (-1.9, -3.34),
    (-1.35, -3.28),
    (-5.6, -3.53), (-4.7, -3.58), (-4.0, -3.52), (-3.35, -3.57), (-2.75, -3.54), (-2.15, -3.59),
    (-1.6, -3.53),
    (-5.3, -3.78), (-4.4, -3.83), (-3.7, -3.77), (-3.05, -3.82), (-2.4, -3.79), (-1.8, -3.84),
    (-5.0, -4.03), (-4.1, -4.08), (-3.4, -4.02), (-2.7, -4.07), (-2.05, -4.04),
    (-4.55, -4.28), (-3.75, -4.33), (-3.0, -4.27), (-2.3, -4.32),
    (-2.75, -0.68), (-2.0, -0.72), (-1.3, -0.67), (-0.8, -0.73),
    (-3.2, -0.93), (-2.6, -0.98), (-2.15, -0.92), (-1.7, -0.97), (-1.2, -0.94), (-0.7, -0.99),
    (-3.1, -1.18), (-2.55, -1.23), (-2.05, -1.17), (-1.55, -1.22), (-1.0, -1.19), (-0.5, -1.24),
    (-3.35, -1.43), (-2.8, -1.48), (-2.3, -1.42), (-1.8, -1.47), (-1.25, -1.44), (-0.75, -1.49),
    (-3.15, -1.68), (-2.6, -1.73), (-2.1, -1.67), (-1.55, -1.72), (-1.0, -1.69), (-0.45, -1.74),
    (-3.3, -1.93), (-2.75, -1.98), (-2.25, -1.92), (-1.75, -1.97), (-1.25, -1.94), (-0.7, -1.99),
    (-3.0, -2.18), (-2.5, -2.23), (-2.0, -2.17), (-1.5, -2.22), (-1.0, -2.19), (-0.5, -2.24),
    (-3.2, -2.43), (-2.6, -2.48), (-2.15, -2.42), (-1.7, -2.47), (-1.2, -2.44), (-0.7, -2.49),
    (-2.8, -2.68), (-2.3, -2.73), (-1.8, -2.67), (-1.25, -2.72), (-0.9, -2.69),
    (-3.0, -2.93), (-2.5, -2.98), (-2.0, -2.92), (-1.5, -2.97),
]

all_points = [pts_a, pts_b, pts_c, pts_d]

# ---- layout (pixel boxes of the four plot frames, text anchors and widths) ----
W, H = 1294, 1301
boxes = [(83, 9, 634, 549), (727, 11, 1283, 551), (80, 675, 635, 1219), (727, 677, 1283, 1221)]
tag_pos = [(100, 48), (752, 54), (103, 721), (752, 720)]
tag_width = [120, 106, 117, 100]
line_pos = [(100, 97), (750, 108), (103, 768), (742, 768)]
line_width = [468, 472, 469, 473]

fig = plt.figure(figsize=(W / 100, H / 100), dpi=100)
renderer = fig.canvas.get_renderer()


def measure(text, size, **kw):
    t = fig.text(0, 0, text, fontsize=size, **kw)
    bb = t.get_window_extent(renderer)
    t.remove()
    return bb


def put_line(x_px, y_px, parts, target):
    # pieces of one line set side by side, scaled so the line spans `target` pixels
    base = 20
    total = sum(measure(s, base, family=f).width for s, f in parts)
    size = base * target / total
    for s, f in parts:
        t = fig.text(x_px / W, 1 - y_px / H, s, fontsize=size, family=f,
                     ha='left', va='baseline')
        x_px += t.get_window_extent(renderer).width


for i, pts in enumerate(all_points):
    l, t, r, b = boxes[i]
    ax = fig.add_axes([l / W, 1 - b / H, (r - l) / W, (b - t) / H])
    xs = [p[0] for p in pts]
    ys = [p[1] for p in pts]
    ax.scatter(xs, ys, s=7.5, c='black', marker='o', linewidths=0)
    ax.set_xlim(-20, 5)
    ax.set_ylim(-10, 5)
    ax.set_xticks(x_major)
    ax.set_yticks(y_major)
    ax.xaxis.set_minor_locator(MultipleLocator(1))
    ax.yaxis.set_minor_locator(MultipleLocator(0.5))
    ax.tick_params(which='both', direction='in', top=True, right=True, width=1.0,
                   labelsize=13, labelfontfamily='Liberation Sans')
    ax.tick_params(which='major', length=7.5)
    ax.tick_params(which='minor', length=3.8)
    ax.tick_params(axis='x', pad=6)
    ax.tick_params(axis='y', pad=4)
    for sp in ax.spines.values():
        sp.set_linewidth(1.5)

    put_line(tag_pos[i][0], tag_pos[i][1], [(panel_tags[i], 'Lato')], tag_width[i])
    put_line(line_pos[i][0], line_pos[i][1],
             [(panel_kinds[i], 'Lato'), ('Hσ', 'Liberation Serif'), (panel_limits[i], 'Lato')],
             line_width[i])

ylab = r'MODIS Resolution Δ$\mathit{r}_{\mathit{e{,}3.7{-}2.1}}$'
ysize = 20 * 445 / measure(ylab, 20, family='Lato', rotation=90).height
fig.text(30 / W, 1 - 287 / H, ylab, rotation=90, ha='center', va='center', fontsize=ysize)
fig.text(30 / W, 1 - 955 / H, ylab, rotation=90, ha='center', va='center', fontsize=ysize)

xlab = (r'mean of LES resolution $\mathit{r}_{\mathit{e{,}2.1}}$ - '
        r'MODIS resolution $\mathit{r}_{\mathit{e{,}2.1}}$ retrieval')
xsize = 20 * 725 / measure(xlab, 20, family=cond_family, fontstretch=cond_stretch).width
fig.text(648 / W, 1 - 1281 / H, xlab, ha='center', va='center', fontsize=xsize,
         family=cond_family, fontstretch=cond_stretch)

fig.savefig('out.png', dpi=100)
